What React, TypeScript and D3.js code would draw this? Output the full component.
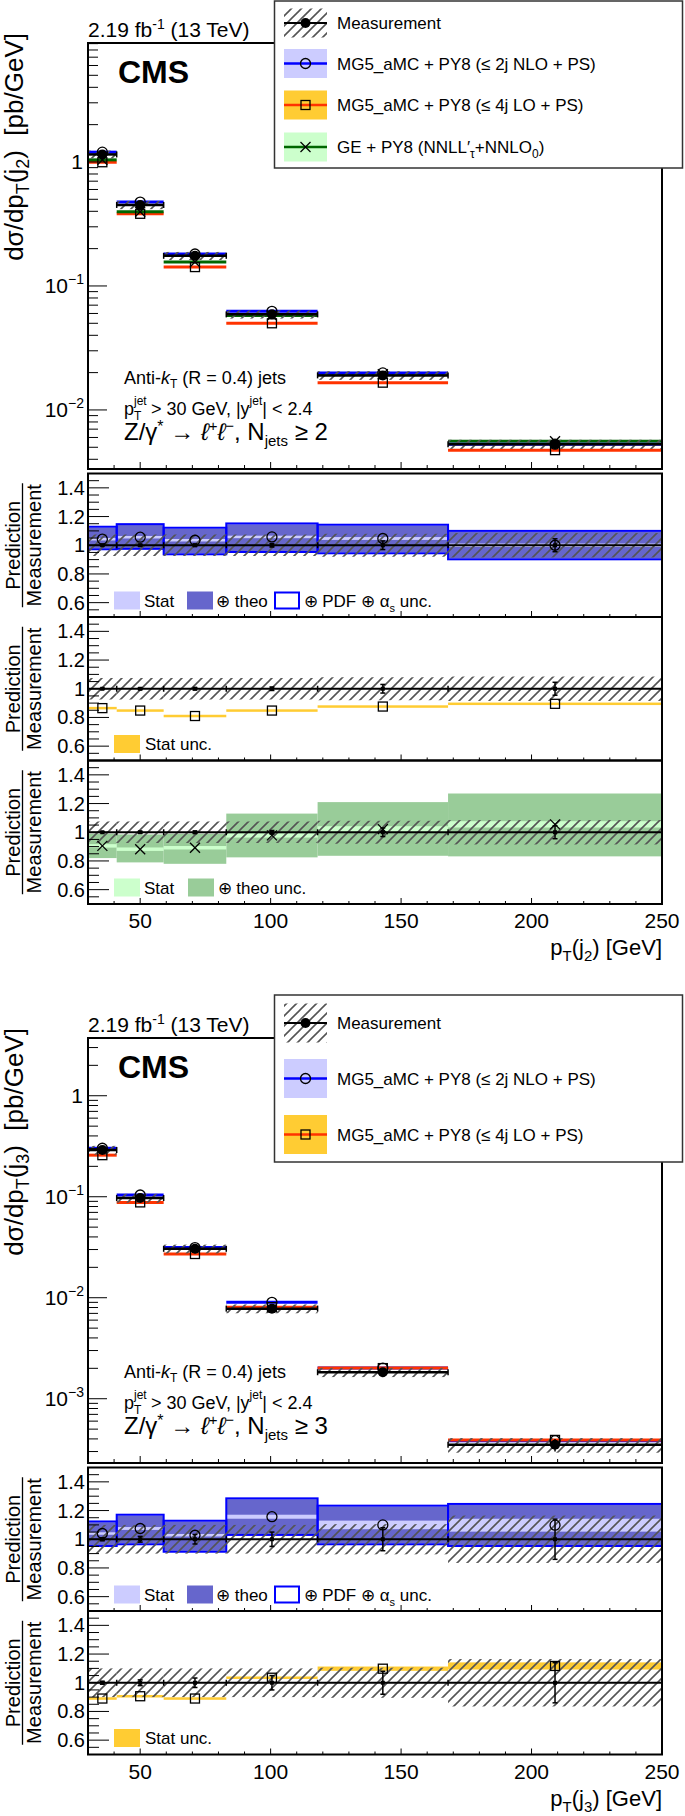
import React from "react";
import * as d3 from "d3";

// ---------------- data ----------------
const binEdges = [30, 41, 59, 83, 118, 168, 250];
const binCenters = [35.5, 50, 71, 100.5, 143, 209];
const xMajorTicks = [50, 100, 150, 200, 250];
const xTickLabels = ["50", "100", "150", "200", "250"];
const ratioTicks = [0.6, 0.8, 1, 1.2, 1.4];
const ratioTickLabels = ["0.6", "0.8", "1", "1.2", "1.4"];

// pT(j2) figure
const j2Meas = [1.15, 0.45, 0.175, 0.059, 0.019, 0.0053];
const j2MeasStat = [0.004, 0.006, 0.008, 0.012, 0.03, 0.045];
const j2MeasTot = [0.075, 0.075, 0.075, 0.075, 0.08, 0.085];
const j2NloXs = [1.2, 0.475, 0.181, 0.0624, 0.0199, 0.0053];
const j2LoXs = [0.995, 0.382, 0.142, 0.05, 0.0166, 0.00474];
const j2GeXs = [1.04, 0.397, 0.156, 0.0577, 0.0194, 0.0056];
const j2NloRatio = [1.042, 1.056, 1.035, 1.058, 1.047, 1.0];
const j2NloStat = [0.006, 0.006, 0.007, 0.008, 0.01, 0.012];
const j2NloTheoLo = [0.978, 0.981, 0.943, 0.959, 0.95, 0.908];
const j2NloTheoHi = [1.123, 1.141, 1.116, 1.146, 1.137, 1.094];
const j2NloTotLo = [0.972, 0.975, 0.937, 0.953, 0.944, 0.902];
const j2NloTotHi = [1.129, 1.147, 1.122, 1.152, 1.143, 1.1];
const j2LoRatio = [0.865, 0.848, 0.81, 0.848, 0.876, 0.895];
const j2LoStat = [0.004, 0.004, 0.005, 0.005, 0.006, 0.007];
const j2GeRatio = [0.905, 0.882, 0.892, 0.978, 1.022, 1.055];
const j2GeStat = [0.012, 0.012, 0.012, 0.015, 0.02, 0.022];
const j2GeTheoLo = [0.82, 0.79, 0.78, 0.825, 0.836, 0.832];
const j2GeTheoHi = [0.99, 0.985, 0.99, 1.13, 1.21, 1.27];

// pT(j3) figure
const j3Meas = [0.29, 0.097, 0.0305, 0.0078, 0.00183, 0.00035];
const j3MeasStat = [0.01, 0.02, 0.033, 0.05, 0.08, 0.14];
const j3MeasTot = [0.1, 0.1, 0.1, 0.1, 0.105, 0.165];
const j3NloXs = [0.302, 0.104, 0.0314, 0.009, 0.00201, 0.000384];
const j3LoXs = [0.258, 0.0879, 0.0271, 0.00807, 0.00201, 0.000391];
const j3NloRatio = [1.04, 1.075, 1.028, 1.157, 1.1, 1.098];
const j3NloStat = [0.008, 0.01, 0.008, 0.014, 0.03, 0.045];
const j3NloTheoLo = [0.959, 0.971, 0.919, 1.036, 0.971, 0.959];
const j3NloTheoHi = [1.118, 1.165, 1.123, 1.279, 1.228, 1.24];
const j3NloTotLo = [0.953, 0.965, 0.913, 1.03, 0.965, 0.953];
const j3NloTotHi = [1.124, 1.171, 1.129, 1.285, 1.234, 1.246];
const j3LoRatio = [0.89, 0.906, 0.89, 1.035, 1.098, 1.117];
const j3LoStat = [0.005, 0.006, 0.006, 0.008, 0.015, 0.025];

// ---------------- style ----------------
const FONT = "'Liberation Sans', Arial, Helvetica, sans-serif";
const X0 = 88;
const X1 = 662;
const RH = 143.5;
const xs = d3.scaleLinear().domain([30, 250]).range([X0, X1]);
const C = {
  nlo: "#0000ff",
  nloStat: "#ccccff",
  nloTheo: "#6666cc",
  lo: "#ff3300",
  loBand: "#ffcc33",
  ge: "#006600",
  geStat: "#ccffcc",
  geTheo: "#99cc99",
  hatch: "#555555",
};

type MarkerKind = "circle" | "square" | "cross" | "dot";

function Marker({ kind, cx, cy }: { kind: MarkerKind; cx: number; cy: number }) {
  if (kind === "circle")
    return <circle cx={cx} cy={cy} r={5} fill="none" stroke="black" strokeWidth={1.3} />;
  if (kind === "square")
    return <rect x={cx - 4.5} y={cy - 4.5} width={9} height={9} fill="none" stroke="black" strokeWidth={1.3} />;
  if (kind === "cross")
    return (
      <g stroke="black" strokeWidth={1.3}>
        <line x1={cx - 5} y1={cy - 5} x2={cx + 5} y2={cy + 5} />
        <line x1={cx - 5} y1={cy + 5} x2={cx + 5} y2={cy - 5} />
      </g>
    );
  return <circle cx={cx} cy={cy} r={5} fill="black" />;
}

type Pred = { vals: number[]; line: string; marker: MarkerKind };

function xTicks(yBase: number, major: number, minor: number) {
  const minors = d3.range(30, 251, 10).filter((v) => v % 50 !== 0);
  return (
    <g stroke="black" strokeWidth={1}>
      {xMajorTicks.map((v) => (
        <line key={"M" + v} x1={xs(v)} x2={xs(v)} y1={yBase} y2={yBase - major} />
      ))}
      {minors.map((v) => (
        <line key={"m" + v} x1={xs(v)} x2={xs(v)} y1={yBase} y2={yBase - minor} />
      ))}
    </g>
  );
}

function TopPanel(props: {
  y0: number;
  y1: number;
  dom: [number, number];
  meas: number[];
  measStat: number[];
  measTot: number[];
  preds: Pred[];
  jet: string;
  nj: string;
  annoY: number;
}) {
  const { y0, y1, dom, meas, measStat, measTot, preds, jet, nj, annoY } = props;
  const y = d3.scaleLog().domain(dom).range([y1, y0]);
  const kLo = Math.floor(Math.log10(dom[0]));
  const kHi = Math.floor(Math.log10(dom[1]));
  const majors: number[] = [];
  const minors: number[] = [];
  for (let k = kLo; k <= kHi; k++) {
    const base = Math.pow(10, k);
    if (base >= dom[0] && base <= dom[1]) majors.push(k);
    for (let m = 2; m <= 9; m++) {
      const v = m * base;
      if (v >= dom[0] && v <= dom[1]) minors.push(v);
    }
  }
  const ax = 124;
  return (
    <g>
      {preds.map((p, pi) =>
        p.vals.map((v, i) => (
          <line
            key={`pl${pi}-${i}`}
            x1={xs(binEdges[i])}
            x2={xs(binEdges[i + 1])}
            y1={y(v)}
            y2={y(v)}
            stroke={p.line}
            strokeWidth={3}
          />
        ))
      )}
      {meas.map((v, i) => (
        <rect
          key={`mh${i}`}
          x={xs(binEdges[i])}
          width={xs(binEdges[i + 1]) - xs(binEdges[i])}
          y={y(v * (1 + measTot[i]))}
          height={y(v * (1 - measTot[i])) - y(v * (1 + measTot[i]))}
          fill="url(#hatch)"
        />
      ))}
      {meas.map((v, i) => (
        <line
          key={`ml${i}`}
          x1={xs(binEdges[i])}
          x2={xs(binEdges[i + 1])}
          y1={y(v)}
          y2={y(v)}
          stroke="black"
          strokeWidth={2.5}
        />
      ))}
      {meas.map((v, i) => (
        <g key={`me${i}`} stroke="black" strokeWidth={1.5}>
          <line x1={xs(binEdges[i])} x2={xs(binEdges[i])} y1={y(v) - 3} y2={y(v) + 3} />
          <line x1={xs(binEdges[i + 1])} x2={xs(binEdges[i + 1])} y1={y(v) - 3} y2={y(v) + 3} />
          <line
            x1={xs(binCenters[i])}
            x2={xs(binCenters[i])}
            y1={y(v * (1 + measStat[i]))}
            y2={y(v * (1 - measStat[i]))}
          />
        </g>
      ))}
      {preds.map((p, pi) =>
        p.vals.map((v, i) => <Marker key={`pm${pi}-${i}`} kind={p.marker} cx={xs(binCenters[i])} cy={y(v)} />)
      )}
      {meas.map((v, i) => (
        <Marker key={`md${i}`} kind="dot" cx={xs(binCenters[i])} cy={y(v)} />
      ))}
      <rect x={X0} y={y0} width={X1 - X0} height={y1 - y0} fill="none" stroke="black" strokeWidth={2} />
      <g stroke="black" strokeWidth={1}>
        {majors.map((k) => (
          <line key={"ym" + k} x1={X0} x2={X0 + 19} y1={y(Math.pow(10, k))} y2={y(Math.pow(10, k))} />
        ))}
        {minors.map((v, i) => (
          <line key={"yn" + i} x1={X0} x2={X0 + 10} y1={y(v)} y2={y(v)} />
        ))}
      </g>
      {xTicks(y1, 7, 4)}
      {majors.map((k) =>
        k === 0 ? (
          <text key={"yl" + k} x={83} y={y(1) + 7} textAnchor="end" fontSize={21}>
            1
          </text>
        ) : (
          <text key={"yl" + k} x={84} y={y(Math.pow(10, k)) + 7} textAnchor="end" fontSize={21}>
            10
            <tspan dy={-9} fontSize={14}>
              {"\u2212" + -k}
            </tspan>
          </text>
        )
      )}
      <text
        transform={`translate(23, ${y0 - 10}) rotate(-90)`}
        textAnchor="end"
        fontSize={26}
        style={{ whiteSpace: "pre" }}
      >
        dσ/dp
        <tspan dy={6} fontSize={18}>
          T
        </tspan>
        <tspan dy={-6}>(j</tspan>
        <tspan dy={6} fontSize={18}>
          {jet}
        </tspan>
        <tspan dy={-6}>{")\u00a0\u00a0[pb/GeV]"}</tspan>
      </text>
      <text x={X0} y={y0 - 6} fontSize={21}>
        2.19 fb
        <tspan dy={-8} fontSize={14}>
          -1
        </tspan>
        <tspan dy={8}> (13 TeV)</tspan>
      </text>
      <text x={118} y={y0 + 40} fontSize={32} fontWeight="bold">
        CMS
      </text>
      <text x={ax} y={annoY} fontSize={18}>
        Anti-<tspan fontStyle="italic">k</tspan>
        <tspan dy={4} fontSize={12}>
          T
        </tspan>
        <tspan dy={-4}> (R = 0.4) jets</tspan>
      </text>
      <text x={ax} y={annoY + 31} fontSize={18}>
        p
        <tspan x={ax + 10} dy={-10} fontSize={12}>
          jet
        </tspan>
        <tspan x={ax + 10} dy={15} fontSize={12}>
          T
        </tspan>
        <tspan x={ax + 27} dy={-5}>
          {"> 30 GeV, |y"}
        </tspan>
        <tspan dy={-10} fontSize={12}>
          jet
        </tspan>
        <tspan dy={10}>| &lt; 2.4</tspan>
      </text>
      <text x={ax} y={annoY + 56} fontSize={24}>
        Z/γ
        <tspan dy={-8} fontSize={16}>
          *
        </tspan>
        <tspan dy={8}>{" \u2192 "}</tspan>
        <tspan fontStyle="italic">ℓ</tspan>
        <tspan dy={-9} fontSize={15}>
          +
        </tspan>
        <tspan dy={9} fontStyle="italic">
          ℓ
        </tspan>
        <tspan dy={-9} fontSize={15}>
          {"\u2212"}
        </tspan>
        <tspan dy={9}>, N</tspan>
        <tspan dy={6} fontSize={15}>
          jets
        </tspan>
        <tspan dy={-6}>{" \u2265 " + nj}</tspan>
      </text>
    </g>
  );
}

type Band = { lo: number[]; hi: number[]; fill: string };

function RatioPanel(props: {
  top: number;
  ratio: number[];
  stat: number[];
  statColor: string;
  theo?: Band;
  tot?: { lo: number[]; hi: number[] };
  marker: MarkerKind;
  measStat: number[];
  measTot: number[];
  legend: "nlo" | "lo" | "ge";
  bottom: boolean;
  xTitleJet: string;
}) {
  const { top, ratio, stat, statColor, theo, tot, marker, measStat, measTot, legend, bottom, xTitleJet } = props;
  const y = d3.scaleLinear().domain([0.5, 1.5]).range([top + RH, top]);
  const bx = (i: number) => xs(binEdges[i]);
  const bw = (i: number) => xs(binEdges[i + 1]) - xs(binEdges[i]);
  const minorY = d3.range(0.5, 1.501, 0.05).filter((v) => Math.abs(v * 5 - Math.round(v * 5)) > 1e-6);
  const ly = top + 127;
  return (
    <g>
      {theo &&
        theo.lo.map((lo, i) => (
          <rect key={"th" + i} x={bx(i)} width={bw(i)} y={y(theo.hi[i])} height={y(lo) - y(theo.hi[i])} fill={theo.fill} />
        ))}
      {ratio.map((r, i) => {
        const h = Math.max(y(r - stat[i]) - y(r + stat[i]), 2.5);
        return <rect key={"st" + i} x={bx(i)} width={bw(i)} y={y(r) - h / 2} height={h} fill={statColor} />;
      })}
      {tot &&
        tot.lo.map((lo, i) => (
          <rect
            key={"tt" + i}
            x={bx(i)}
            width={bw(i)}
            y={y(tot.hi[i])}
            height={y(lo) - y(tot.hi[i])}
            fill="none"
            stroke={C.nlo}
            strokeWidth={2}
          />
        ))}
      {measTot.map((t, i) => (
        <rect key={"h" + i} x={bx(i)} width={bw(i)} y={y(1 + t)} height={y(1 - t) - y(1 + t)} fill="url(#hatch)" />
      ))}
      <line x1={X0} x2={X1} y1={y(1)} y2={y(1)} stroke="black" strokeWidth={2} />
      <g stroke="black" strokeWidth={1.5}>
        {binEdges.slice(1, -1).map((e, i) => (
          <line key={"be" + i} x1={xs(e)} x2={xs(e)} y1={y(1) - 3} y2={y(1) + 3} />
        ))}
        {measStat.map((s, i) => {
          const cx = xs(binCenters[i]);
          return (
            <g key={"ms" + i}>
              <line x1={cx} x2={cx} y1={y(1 + s)} y2={y(1 - s)} />
              <line x1={cx - 2.5} x2={cx + 2.5} y1={y(1 + s)} y2={y(1 + s)} />
              <line x1={cx - 2.5} x2={cx + 2.5} y1={y(1 - s)} y2={y(1 - s)} />
            </g>
          );
        })}
      </g>
      {measStat.map((s, i) => (
        <rect key={"md" + i} x={xs(binCenters[i]) - 2} y={y(1) - 2} width={4} height={4} fill="black" />
      ))}
      {ratio.map((r, i) => (
        <Marker key={"mk" + i} kind={marker} cx={xs(binCenters[i])} cy={y(r)} />
      ))}
      <rect x={X0} y={top} width={X1 - X0} height={RH} fill="none" stroke="black" strokeWidth={2} />
      <g stroke="black" strokeWidth={1}>
        {ratioTicks.map((v) => (
          <line key={"rt" + v} x1={X0} x2={X0 + 21} y1={y(v)} y2={y(v)} />
        ))}
        {minorY.map((v, i) => (
          <line key={"rn" + i} x1={X0} x2={X0 + 11} y1={y(v)} y2={y(v)} />
        ))}
      </g>
      {xTicks(top + RH, 6, 3)}
      {ratioTicks.map((v, i) => (
        <text key={"rl" + v} x={85} y={y(v) + 7} textAnchor="end" fontSize={20}>
          {ratioTickLabels[i]}
        </text>
      ))}
      <text transform={`translate(20, ${top + RH / 2}) rotate(-90)`} textAnchor="middle" fontSize={20}>
        Prediction
      </text>
      <line x1={22.5} x2={22.5} y1={top + RH / 2 - 62} y2={top + RH / 2 + 62} stroke="black" strokeWidth={1.3} />
      <text transform={`translate(41, ${top + RH / 2}) rotate(-90)`} textAnchor="middle" fontSize={20}>
        Measurement
      </text>
      {legend === "nlo" && (
        <g fontSize={17}>
          <rect x={114} y={ly - 9} width={26} height={18} fill={C.nloStat} />
          <text x={144} y={ly + 6}>Stat</text>
          <rect x={187} y={ly - 9} width={26} height={18} fill={C.nloTheo} />
          <text x={216} y={ly + 6}>⊕ theo</text>
          <rect x={275} y={ly - 8} width={24} height={16} fill="white" stroke={C.nlo} strokeWidth={2} />
          <text x={303.5} y={ly + 6}>
            ⊕ PDF ⊕ α
            <tspan dy={5} fontSize={11}>
              s
            </tspan>
            <tspan dy={-5}> unc.</tspan>
          </text>
        </g>
      )}
      {legend === "lo" && (
        <g fontSize={17}>
          <rect x={114} y={ly - 9} width={26} height={18} fill={C.loBand} />
          <text x={145} y={ly + 6}>Stat unc.</text>
        </g>
      )}
      {legend === "ge" && (
        <g fontSize={17}>
          <rect x={114} y={ly - 9} width={26} height={18} fill={C.geStat} />
          <text x={144} y={ly + 6}>Stat</text>
          <rect x={188} y={ly - 9} width={26} height={18} fill={C.geTheo} />
          <text x={217.5} y={ly + 6}>⊕ theo unc.</text>
        </g>
      )}
      {bottom && (
        <g>
          {xMajorTicks.map((v, i) => (
            <text key={"xl" + v} x={xs(v)} y={top + RH + 24} textAnchor="middle" fontSize={21}>
              {xTickLabels[i]}
            </text>
          ))}
          <text x={X1} y={top + RH + 51} textAnchor="end" fontSize={22}>
            p
            <tspan dy={6} fontSize={15}>
              T
            </tspan>
            <tspan dy={-6}>(j</tspan>
            <tspan dy={6} fontSize={15}>
              {xTitleJet}
            </tspan>
            <tspan dy={-6}>) [GeV]</tspan>
          </text>
        </g>
      )}
    </g>
  );
}

function Legend({ top, centers, half, entries }: { top: number; centers: number[]; half: number; entries: string[] }) {
  const lx0 = 284;
  const lx1 = 327;
  const mx = (lx0 + lx1) / 2;
  return (
    <g>
      <rect x={274.5} y={top} width={408} height={167} fill="white" stroke="#333" strokeWidth={1.5} />
      {entries.map((e, i) => {
        const c = centers[i];
        let sym: React.ReactNode = null;
        if (i === 0)
          sym = (
            <g>
              <rect x={lx0} y={c - half} width={lx1 - lx0} height={2 * half} fill="url(#hatch)" />
              <line x1={lx0} x2={lx1} y1={c} y2={c} stroke="black" strokeWidth={2} />
              <circle cx={mx} cy={c} r={5} fill="black" />
            </g>
          );
        else {
          const fill = i === 1 ? C.nloStat : i === 2 ? C.loBand : C.geStat;
          const line = i === 1 ? C.nlo : i === 2 ? C.lo : C.ge;
          const mk: MarkerKind = i === 1 ? "circle" : i === 2 ? "square" : "cross";
          sym = (
            <g>
              <rect x={lx0} y={c - half} width={lx1 - lx0} height={2 * half} fill={fill} />
              <line x1={lx0} x2={lx1} y1={c} y2={c} stroke={line} strokeWidth={2.5} />
              <Marker kind={mk} cx={mx} cy={c} />
            </g>
          );
        }
        return (
          <g key={"lg" + i}>
            {sym}
            {i === 3 ? (
              <text x={337} y={c + 6} fontSize={17}>
                GE + PY8 (NNLL′
                <tspan dy={5} fontSize={12}>
                  τ
                </tspan>
                <tspan dy={-5}>+NNLO</tspan>
                <tspan dy={5} fontSize={12}>
                  0
                </tspan>
                <tspan dy={-5}>)</tspan>
              </text>
            ) : (
              <text x={337} y={c + 6} fontSize={17}>
                {e}
              </text>
            )}
          </g>
        );
      })}
    </g>
  );
}

const legendEntries = [
  "Measurement",
  "MG5_aMC + PY8 (\u2264 2j NLO + PS)",
  "MG5_aMC + PY8 (\u2264 4j LO + PS)",
  "GE + PY8 (NNLL\u2032+NNLO)",
];

export default function App() {
  const j2Preds: Pred[] = [
    { vals: j2LoXs, line: C.lo, marker: "square" },
    { vals: j2GeXs, line: C.ge, marker: "cross" },
    { vals: j2NloXs, line: C.nlo, marker: "circle" },
  ];
  const j3Preds: Pred[] = [
    { vals: j3NloXs, line: C.nlo, marker: "circle" },
    { vals: j3LoXs, line: C.lo, marker: "square" },
  ];
  return (
    <svg
      width={685}
      height={1816}
      viewBox="0 0 685 1816"
      style={{ position: "absolute", left: 0, top: 0, background: "white" }}
      fontFamily={FONT}
    >
      <defs>
        <pattern id="hatch" patternUnits="userSpaceOnUse" width={10} height={10}>
          <path d="M-1,11 L11,-1 M-6,6 L6,-6 M4,16 L16,4" stroke={C.hatch} strokeWidth={1.6} />
        </pattern>
      </defs>
      <rect x={0} y={0} width={685} height={1816} fill="white" />

      <TopPanel
        y0={43}
        y1={469}
        dom={[0.00334, 9.11]}
        meas={j2Meas}
        measStat={j2MeasStat}
        measTot={j2MeasTot}
        preds={j2Preds}
        jet="2"
        nj="2"
        annoY={384}
      />
      <RatioPanel
        top={473.5}
        ratio={j2NloRatio}
        stat={j2NloStat}
        statColor={C.nloStat}
        theo={{ lo: j2NloTheoLo, hi: j2NloTheoHi, fill: C.nloTheo }}
        tot={{ lo: j2NloTotLo, hi: j2NloTotHi }}
        marker="circle"
        measStat={j2MeasStat}
        measTot={j2MeasTot}
        legend="nlo"
        bottom={false}
        xTitleJet="2"
      />
      <RatioPanel
        top={617}
        ratio={j2LoRatio}
        stat={j2LoStat}
        statColor={C.loBand}
        marker="square"
        measStat={j2MeasStat}
        measTot={j2MeasTot}
        legend="lo"
        bottom={false}
        xTitleJet="2"
      />
      <RatioPanel
        top={760.5}
        ratio={j2GeRatio}
        stat={j2GeStat}
        statColor={C.geStat}
        theo={{ lo: j2GeTheoLo, hi: j2GeTheoHi, fill: C.geTheo }}
        marker="cross"
        measStat={j2MeasStat}
        measTot={j2MeasTot}
        legend="ge"
        bottom={true}
        xTitleJet="2"
      />
      <Legend top={1} centers={[23, 63.5, 105, 147]} half={14.5} entries={legendEntries} />

      <TopPanel
        y0={1038}
        y1={1463}
        dom={[0.000231, 3.73]}
        meas={j3Meas}
        measStat={j3MeasStat}
        measTot={j3MeasTot}
        preds={j3Preds}
        jet="3"
        nj="3"
        annoY={1378}
      />
      <RatioPanel
        top={1467.5}
        ratio={j3NloRatio}
        stat={j3NloStat}
        statColor={C.nloStat}
        theo={{ lo: j3NloTheoLo, hi: j3NloTheoHi, fill: C.nloTheo }}
        tot={{ lo: j3NloTotLo, hi: j3NloTotHi }}
        marker="circle"
        measStat={j3MeasStat}
        measTot={j3MeasTot}
        legend="nlo"
        bottom={false}
        xTitleJet="3"
      />
      <RatioPanel
        top={1611}
        ratio={j3LoRatio}
        stat={j3LoStat}
        statColor={C.loBand}
        marker="square"
        measStat={j3MeasStat}
        measTot={j3MeasTot}
        legend="lo"
        bottom={true}
        xTitleJet="3"
      />
      <Legend top={995} centers={[1023, 1078.5, 1134.5]} half={19.5} entries={legendEntries.slice(0, 3)} />
    </svg>
  );
}
